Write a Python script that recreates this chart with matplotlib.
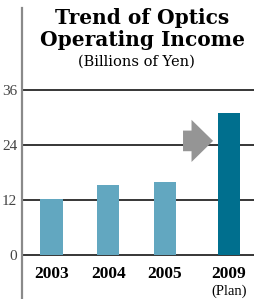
import matplotlib
matplotlib.use("Agg")
from matplotlib import pyplot as plt
from matplotlib.patches import FancyArrow

years = ['2003', '2004', '2005', '2009']
values = [12.2, 15.3, 15.9, 31.0]
positions = [0, 1, 2, 3.13]
colors = ['#62a7c0', '#62a7c0', '#62a7c0', '#006f8e']
yticks = [0, 12, 24, 36]

plt.rcParams['font.family'] = ['Liberation Serif', 'DejaVu Serif']

fig = plt.figure(figsize=(2.55, 2.99), dpi=100)
ax = fig.add_axes([21.5 / 255, 0, 233.5 / 255, 291 / 299])
ax.set_xlim(-0.53, 3.59)
ax.set_ylim(-9.6, 53.9)

for t in yticks:
    ax.axhline(t, color='black', lw=1.1, zorder=1)
ax.bar(positions, values, width=0.39, color=colors, zorder=2)

# gray arrow pointing at the plan bar
ax.add_patch(FancyArrow(2.32, 24.9, 0.53, 0, width=4.5, head_width=9.2,
                        head_length=0.38, length_includes_head=True,
                        color='#959595', lw=0, zorder=3))

for s in ['top', 'right', 'bottom']:
    ax.spines[s].set_visible(False)
ax.spines['left'].set_color('#8a8a8a')
ax.spines['left'].set_linewidth(1.6)
ax.set_xticks([])
ax.set_yticks(yticks)
ax.tick_params(axis='y', length=0, pad=3, labelsize=11, labelcolor='#444444')

for x, y in zip(positions, years):
    ax.text(x, -4.1, y, ha='center', va='center', fontsize=12.5, fontweight='bold')
ax.text(positions[-1], -8.0, '(Plan)', ha='center', va='center', fontsize=10.5)

title_font = {'family': 'DejaVu Serif', 'fontweight': 'bold', 'fontsize': 14.5}
fig.text(142 / 255, 1 - 24 / 299, 'Trend of Optics', ha='center', va='baseline',
         **title_font)
fig.text(142 / 255, 1 - 46 / 299, 'Operating Income', ha='center', va='baseline',
         **title_font)
fig.text(136 / 255, 1 - 66 / 299, '(Billions of Yen)', ha='center', va='baseline',
         family='DejaVu Serif', fontsize=10.5)

fig.savefig('out.png', dpi=100)
